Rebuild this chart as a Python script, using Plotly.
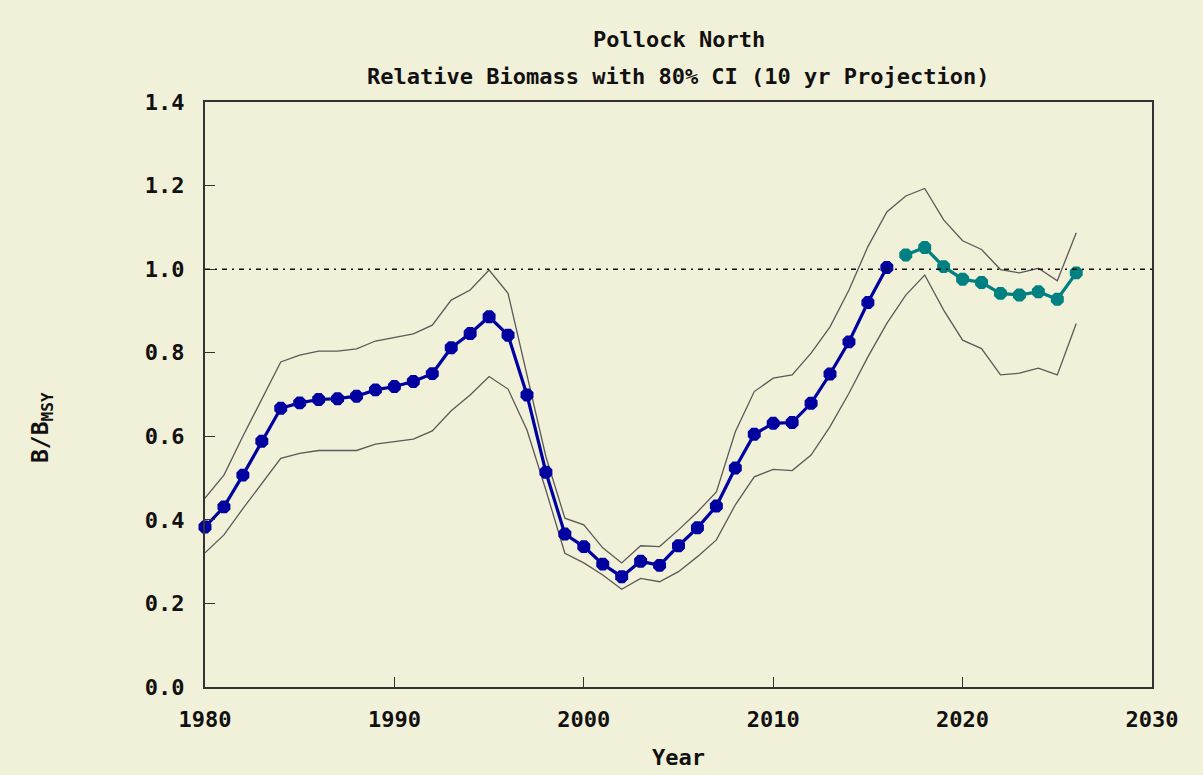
import plotly.graph_objects as go

# Relative biomass (B/BMSY) for Pollock North
hist_years = list(range(1980, 2017))
hist_biomass = [0.383, 0.431, 0.507, 0.588, 0.667, 0.680, 0.688, 0.690, 0.696, 0.711,
                0.719, 0.731, 0.750, 0.812, 0.846, 0.886, 0.842, 0.699, 0.514, 0.366,
                0.336, 0.294, 0.264, 0.301, 0.291, 0.338, 0.381, 0.433, 0.524, 0.605,
                0.631, 0.633, 0.679, 0.749, 0.826, 0.920, 1.004]

proj_years = list(range(2017, 2027))
proj_biomass = [1.034, 1.052, 1.006, 0.976, 0.968, 0.942, 0.938, 0.946, 0.928, 0.991]

# 80% confidence interval bounds, 1980-2026
ci_years = list(range(1980, 2027))
ci_upper = [0.452, 0.507, 0.600, 0.690, 0.778, 0.794, 0.804, 0.804, 0.809, 0.828,
            0.837, 0.845, 0.866, 0.926, 0.950, 0.998, 0.942, 0.750, 0.551, 0.404,
            0.388, 0.333, 0.297, 0.338, 0.336, 0.376, 0.419, 0.467, 0.611, 0.707,
            0.739, 0.747, 0.799, 0.862, 0.950, 1.054, 1.137, 1.175, 1.193, 1.118,
            1.068, 1.047, 0.999, 0.991, 1.002, 0.972, 1.087]
ci_lower = [0.321, 0.364, 0.427, 0.486, 0.547, 0.559, 0.566, 0.566, 0.566, 0.581,
            0.587, 0.593, 0.613, 0.661, 0.699, 0.743, 0.713, 0.615, 0.471, 0.320,
            0.297, 0.268, 0.234, 0.260, 0.252, 0.276, 0.312, 0.352, 0.436, 0.503,
            0.521, 0.518, 0.555, 0.623, 0.703, 0.790, 0.870, 0.938, 0.986, 0.902,
            0.830, 0.810, 0.747, 0.751, 0.763, 0.747, 0.870]

x_ticks = [1980, 1990, 2000, 2010, 2020, 2030]
y_ticks = [0.0, 0.2, 0.4, 0.6, 0.8, 1.0, 1.2, 1.4]
reference_level = 1.0

BG = "#F1F0D8"
FONT = "DejaVu Sans Mono"
INK = "#111111"

fig = go.Figure()

for bound in (ci_upper, ci_lower):
    fig.add_trace(go.Scatter(
        x=ci_years, y=bound, mode="lines",
        line=dict(color="#5a5a5a", width=1.3),
        hoverinfo="skip", showlegend=False,
    ))

fig.add_trace(go.Scatter(
    x=hist_years, y=hist_biomass, mode="lines+markers",
    line=dict(color="#0000A0", width=3.2),
    marker=dict(symbol="octagon", size=14, color="#0000A0"),
    cliponaxis=False, showlegend=False,
))

fig.add_trace(go.Scatter(
    x=proj_years, y=proj_biomass, mode="lines+markers",
    line=dict(color="#008080", width=3.2),
    marker=dict(symbol="octagon", size=14, color="#008080"),
    cliponaxis=False, showlegend=False,
))

# B/BMSY = 1 reference line
fig.add_shape(type="line", xref="x", yref="y",
              x0=x_ticks[0], x1=x_ticks[-1], y0=reference_level, y1=reference_level,
              line=dict(color="#111111", width=1.5, dash="5px,5px,2px,5px"),
              layer="above")

axis_common = dict(
    showgrid=False, zeroline=False,
    showline=True, linecolor="#333333", linewidth=2, mirror=True,
    ticks="inside", ticklen=10, tickwidth=1.2, tickcolor="#333333",
    tickfont=dict(family=FONT, size=22, color=INK, weight="bold"),
)

fig.update_xaxes(range=[x_ticks[0], x_ticks[-1]], tickvals=x_ticks,
                 ticklabelstandoff=12, **axis_common)
fig.update_yaxes(range=[y_ticks[0], y_ticks[-1]], tickvals=y_ticks,
                 tickformat=".1f", ticklabelstandoff=14, **axis_common)

annotations = [
    dict(text="Pollock North", x=0.5, y=40),
    dict(text="Relative Biomass with 80% CI (10 yr Projection)", x=0.5, y=77),
    dict(text="Year", x=0.5, y=757),
]
layout_ann = []
for a in annotations:
    layout_ann.append(dict(
        text=a["text"], xref="paper", yref="paper", x=a["x"],
        y=(687 - a["y"]) / 585, xanchor="center", yanchor="middle",
        showarrow=False,
        font=dict(family=FONT, size=22, color=INK, weight="bold"),
    ))
layout_ann.append(dict(
    text="B/B<sub>MSY</sub>", xref="paper", yref="paper",
    x=(42 - 205) / 947, y=(687 - 428) / 585, textangle=-90,
    xanchor="center", yanchor="middle", showarrow=False,
    font=dict(family=FONT, size=23, color=INK, weight="bold"),
))

fig.update_layout(
    width=1203, height=775,
    margin=dict(l=205, r=51, t=102, b=88),
    paper_bgcolor=BG, plot_bgcolor=BG,
    annotations=layout_ann,
    showlegend=False,
)

fig.write_html("out.html")
